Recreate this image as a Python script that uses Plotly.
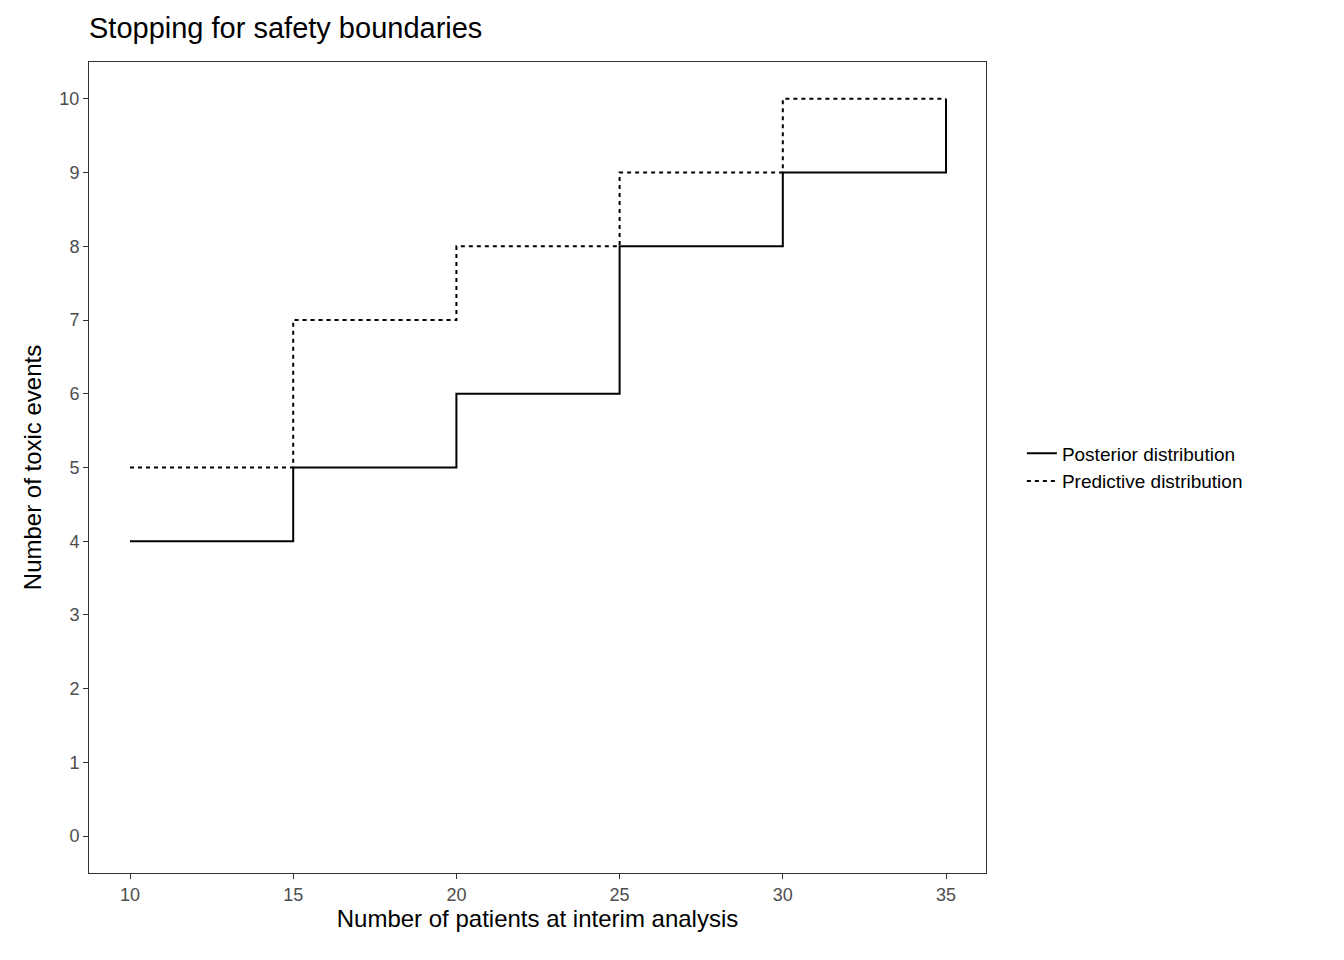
import plotly.graph_objects as go

patients = [10, 15, 20, 25, 30, 35]
posterior = [4, 5, 6, 8, 9, 10]
predictive = [5, 7, 8, 9, 10, 10]

W, H = 1328, 944  # page body adds an 8px margin

fig = go.Figure()
fig.add_trace(go.Scatter(x=patients, y=posterior, mode="lines", line_shape="hv",
                         name="Posterior distribution",
                         line=dict(color="black", width=2)))
fig.add_trace(go.Scatter(x=patients, y=predictive, mode="lines", line_shape="hv",
                         name="Predictive distribution",
                         line=dict(color="black", width=2, dash="4px,4px")))

axis_common = dict(showgrid=False, zeroline=False, showline=True, mirror=True,
                   linecolor="#333333", linewidth=1, ticks="outside", ticklen=5,
                   tickcolor="#333333", tickfont=dict(size=18, color="#4d4d4d"))
fig.update_xaxes(range=[8.744, 36.225], tickvals=[10, 15, 20, 25, 30, 35],
                 title=dict(text="Number of patients at interim analysis",
                            font=dict(size=24, color="black"), standoff=4),
                 **axis_common)
fig.update_yaxes(range=[-0.5, 10.5], tickvals=list(range(11)),
                 title=dict(text="Number of toxic events",
                            font=dict(size=24, color="black"), standoff=10),
                 **axis_common)

fig.update_layout(
    width=W, height=H,
    plot_bgcolor="white", paper_bgcolor="white",
    font=dict(family="Liberation Sans, Arial, sans-serif"),
    margin=dict(l=81, r=350, t=54, b=79),
    title=dict(text="Stopping for safety boundaries", x=81 / W, xanchor="left",
               y=1 - 20 / H, yanchor="middle",
               font=dict(size=29, color="black")),
    legend=dict(x=1.04, y=0.5, xanchor="left", yanchor="middle",
                font=dict(size=19, color="black"), tracegroupgap=22),
)

fig.write_html("out.html")
